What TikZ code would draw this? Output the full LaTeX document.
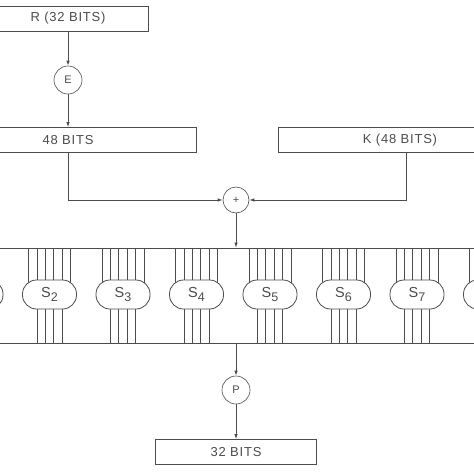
\documentclass[tikz,border=0pt]{standalone}
\usepackage{fontspec}
\setsansfont{Liberation Sans}[LetterSpace=6]
\usetikzlibrary{arrows.meta,positioning,backgrounds}
\definecolor{ink}{gray}{0.3}
\newcommand{\lowered}[1]{\raisebox{-0.55ex}{\fontsize{12.5}{13}\selectfont #1}}

\begin{document}
\begin{tikzpicture}[x=1pt,y=-1pt,
		>={Latex[length=5pt,width=3.5pt]},
		every node/.style={text=ink,font=\sffamily\fontsize{13}{15}\selectfont},
		bitbox/.style={draw=ink,line width=0.8pt,minimum height=25pt,inner sep=0pt},
		perm/.style={draw=ink,line width=0.6pt,circle,minimum size=28pt,inner sep=0pt,
			font=\sffamily\fontsize{11}{12}\selectfont},
		sbox/.style={draw=ink,fill=white,line width=0.8pt,rounded corners=14pt,
			minimum width=54pt,minimum height=29pt,inner sep=0pt,
			font=\sffamily\fontsize{14.5}{15}\selectfont},
		wire/.style={draw=ink,line width=0.7pt},
		link/.style={draw=ink,line width=0.8pt,->}]
		\useasboundingbox (0,0) rectangle (474,474);
		\node[bitbox,minimum width=160pt] (r32) at (68,18.5) {R (32 BITS)};
		\node[perm] (e) at (68,80) {E};
		\node[bitbox,minimum width=256pt] (b48) at (68,140) {48 BITS};
		\node[bitbox,minimum width=244pt] (k48) at (400,140) {K (48 BITS)};
		\node[perm,minimum size=26pt] (xor) at (236,200) {+};
		\node[draw=ink,line width=0.9pt,minimum width=500pt,minimum height=95pt] (band) at (237,295.5) {};
		% outer boxes only partly in view, labels not shown
		\foreach \i in {1,...,8}
			\node[sbox] (s\i) at ({-24+73.5*(\i-1)},294.5)
				{\ifnum\i>1 \ifnum\i<8 S\lowered{\i}\fi\fi};
		\begin{scope}[on background layer]
			\foreach \i in {1,...,8} {
				\foreach \dx in {-21,-12.6,-4.2,4.2,12.6,21}
					\draw[wire] ([xshift=\dx pt]s\i.center) -- ([xshift=\dx pt]s\i.center |- band.north);
				\foreach \dx in {-12.6,-4.2,4.2,12.6}
					\draw[wire] ([xshift=\dx pt]s\i.center) -- ([xshift=\dx pt]s\i.center |- band.south);
			}
		\end{scope}
		\node[perm] (p) at (236,390) {P};
		\node[bitbox,minimum width=161pt] (b32) at (236,452) {32 BITS};
		\draw[link] (r32) -- (e);
		\draw[link] (e) -- (b48);
		\draw[link] (b48) |- (xor);
		\draw[link] ([xshift=6pt]k48.south) |- (xor);
		\draw[link] (xor) -- (xor |- band.north);
		\draw[link] (xor |- band.south) -- (p);
		\draw[link] (p) -- (b32);
	\end{tikzpicture}
\end{document}
